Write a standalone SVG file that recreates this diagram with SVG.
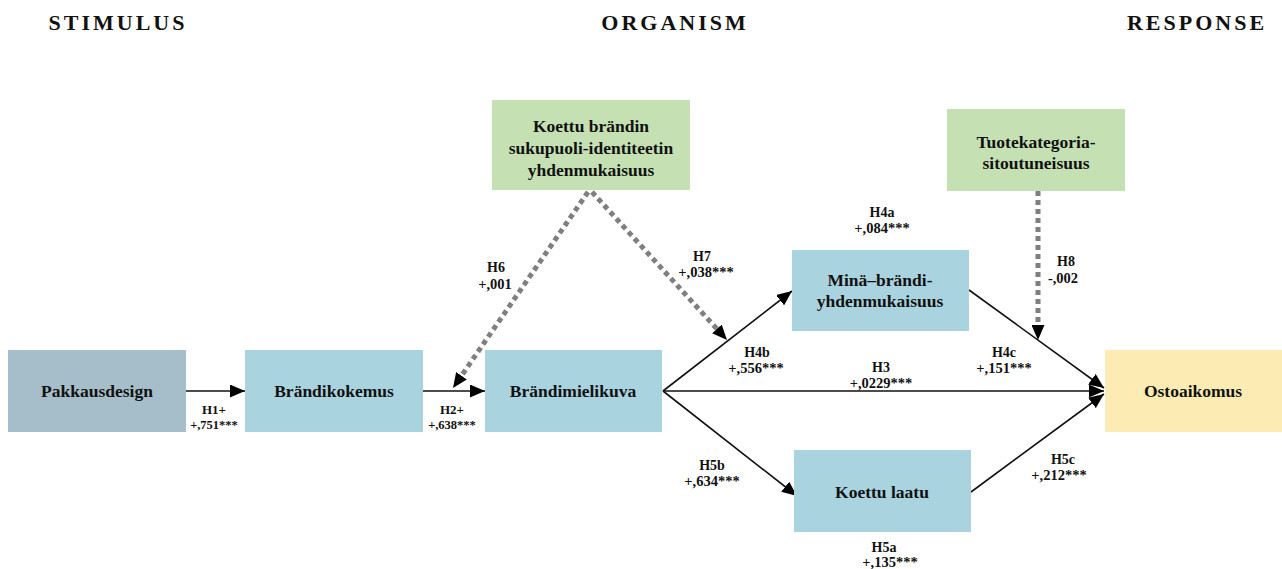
<svg xmlns="http://www.w3.org/2000/svg" width="1282" height="569" viewBox="0 0 1282 569">
<style>
.hdr{font-family:"Liberation Serif","Times New Roman",serif;font-weight:bold;font-size:22px;letter-spacing:3px;text-anchor:middle;fill:#111}
.bt{font-family:"Liberation Serif","Times New Roman",serif;font-weight:bold;font-size:17.5px;text-anchor:middle;fill:#111}
.lb{font-family:"Liberation Serif","Times New Roman",serif;font-weight:bold;font-size:14px;text-anchor:middle;fill:#111}
.lv{font-family:"Liberation Serif","Times New Roman",serif;font-weight:bold;font-size:14.5px;text-anchor:middle;fill:#111}
.s{font-size:13px}
.vs{font-size:12.5px}
.solid{stroke:#111;stroke-width:1.6;fill:none;marker-end:url(#ah)}
.dot{stroke:#7f7f7f;stroke-width:5;stroke-dasharray:5 4;fill:none;marker-end:url(#ahd)}
.blue{fill:#aad3e0}
.green{fill:#c5e1b3}
</style>
<defs>
<marker id="ah" markerUnits="userSpaceOnUse" markerWidth="15" markerHeight="13" refX="15" refY="6.5" orient="auto">
<path d="M0,0 L15,6.5 L0,13 z" fill="#000"/>
</marker>
<marker id="ahd" markerUnits="userSpaceOnUse" markerWidth="15" markerHeight="13" refX="0" refY="6.5" orient="auto">
<path d="M0,0 L15,6.5 L0,13 z" fill="#000"/>
</marker>
</defs>
<rect width="1282" height="569" fill="#fff"/>
<text class="hdr" x="118" y="30">STIMULUS</text>
<text class="hdr" x="675" y="30">ORGANISM</text>
<text class="hdr" x="1197" y="30">RESPONSE</text>

<g id="connectors">
<line class="solid" x1="186" y1="391" x2="245" y2="391"/>
<line class="solid" x1="423" y1="391" x2="485" y2="391"/>
<line class="solid" x1="663" y1="391" x2="792" y2="291"/>
<line class="solid" x1="663" y1="391" x2="1104" y2="391"/>
<line class="solid" x1="663" y1="391" x2="797" y2="496"/>
<line class="solid" x1="969" y1="290" x2="1104" y2="388"/>
<line class="solid" x1="971" y1="492" x2="1104" y2="394"/>
<line class="dot" x1="588" y1="192" x2="461.5" y2="375.7"/>
<line class="dot" x1="592" y1="192" x2="716.9" y2="328.9"/>
<line class="dot" x1="1038" y1="191" x2="1038" y2="325"/>
</g>

<g id="labels">
<text class="lb s" x="214" y="414">H1+</text><text class="lv vs" x="214" y="429">+,751***</text>
<text class="lb s" x="452" y="414">H2+</text><text class="lv vs" x="452" y="429">+,638***</text>
<text class="lb" x="496" y="272">H6</text><text class="lv" x="495" y="289">+,001</text>
<text class="lb" x="702" y="261">H7</text><text class="lv" x="706" y="277">+,038***</text>
<text class="lb" x="882" y="217">H4a</text><text class="lv" x="882" y="233">+,084***</text>
<text class="lb" x="1066" y="266">H8</text><text class="lv" x="1063" y="283">-,002</text>
<text class="lb" x="757" y="357">H4b</text><text class="lv" x="756" y="373">+,556***</text>
<text class="lb" x="881" y="372">H3</text><text class="lv" x="881" y="388">+,0229***</text>
<text class="lb" x="1004" y="357">H4c</text><text class="lv" x="1004" y="373">+,151***</text>
<text class="lb" x="712" y="470">H5b</text><text class="lv" x="712" y="486">+,634***</text>
<text class="lb" x="1063" y="464">H5c</text><text class="lv" x="1059" y="480">+,212***</text>
<text class="lb" x="884" y="552">H5a</text><text class="lv" x="890" y="567">+,135***</text>
</g>

<g id="pakkausdesign"><rect x="8" y="350" width="178" height="82" fill="#a6bec9"/><text class="bt" x="97" y="397">Pakkausdesign</text></g>
<g id="brandikokemus"><rect class="blue" x="245" y="350" width="178" height="82"/><text class="bt" x="334" y="397">Brändikokemus</text></g>
<g id="brandimielikuva"><rect class="blue" x="485" y="350" width="177" height="82"/><text class="bt" x="573" y="397">Brändimielikuva</text></g>
<g id="sukupuoli"><rect class="green" x="492" y="100" width="198" height="90"/><text class="bt" x="591" y="132">Koettu brändin</text><text class="bt" x="591" y="154">sukupuoli-identiteetin</text><text class="bt" x="591" y="176">yhdenmukaisuus</text></g>
<g id="tuotekategoria"><rect class="green" x="947" y="109" width="178" height="82"/><text class="bt" x="1036" y="148">Tuotekategoria-</text><text class="bt" x="1036" y="169">sitoutuneisuus</text></g>
<g id="minabrandi"><rect class="blue" x="792" y="250" width="177" height="81"/><text class="bt" x="880" y="286">Minä–brändi-</text><text class="bt" x="880" y="307">yhdenmukaisuus</text></g>
<g id="koettulaatu"><rect class="blue" x="794" y="450" width="177" height="82"/><text class="bt" x="882" y="498">Koettu laatu</text></g>
<g id="ostoaikomus"><rect x="1105" y="350" width="177" height="82" fill="#fcebb3"/><text class="bt" x="1193" y="397">Ostoaikomus</text></g>
</svg>
